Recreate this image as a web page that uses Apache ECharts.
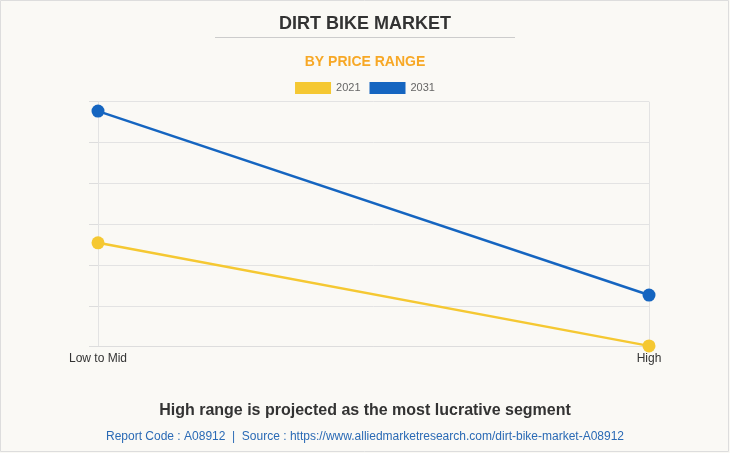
<!DOCTYPE html>
<html><head><meta charset="utf-8">
<script src="https://cdn.jsdelivr.net/npm/echarts@6/dist/echarts.min.js"></script>
<style>html,body{margin:0;padding:0;background:#faf9f5;}#c{width:730px;height:453px;}</style>
</head><body><div id="c"></div>
<script>
const categories = ['Low to Mid', 'High'];
const seriesNames = ['2021', '2031'];
const values2021 = [509, 4];
const values2031 = [1154, 253];
const chart = echarts.init(document.getElementById('c'));
const fontFam = 'Arial, "Liberation Sans", Helvetica, sans-serif';
chart.setOption({
  backgroundColor: '#faf9f5',
  animation: false,
  textStyle: {fontFamily: fontFam},
  title: [
    {text: 'DIRT BIKE MARKET', left: 'center', top: 10, textStyle: {fontSize: 18, fontWeight: 'bold', color: '#333', fontFamily: fontFam}},
    {text: 'BY PRICE RANGE', left: 'center', top: 50, textStyle: {fontSize: 14, fontWeight: 'bold', color: '#f7a826', fontFamily: fontFam}},
    {text: 'High range is projected as the most lucrative segment', left: 'center', top: 398, textStyle: {fontSize: 16, fontWeight: 'bold', color: '#333', fontFamily: fontFam}},
    {text: 'Report Code : A08912  |  Source : https://www.alliedmarketresearch.com/dirt-bike-market-A08912', left: 'center', top: 426, textStyle: {fontSize: 12, fontWeight: 'normal', color: '#2a6ab5', fontFamily: fontFam}}
  ],
  graphic: [
    {type: 'rect', shape: {x: 0.5, y: 0.5, width: 728, height: 451}, style: {fill: null, stroke: '#dddddd', lineWidth: 1}, silent: true},
    {type: 'line', shape: {x1: 215, y1: 37.5, x2: 515, y2: 37.5}, style: {stroke: '#cccccc', lineWidth: 1}}
  ],
  legend: {
    top: 77, left: 'center', itemWidth: 36, itemHeight: 12, itemGap: 9,
    icon: 'rect',
    textStyle: {fontSize: 11, color: '#666', fontFamily: fontFam},
    data: seriesNames
  },
  grid: {left: 98, right: 81, top: 101.7, bottom: 106.3},
  xAxis: {
    type: 'category', data: categories, boundaryGap: false,
    axisLine: {show: true, lineStyle: {color: '#dddddd'}},
    axisTick: {show: false},
    axisLabel: {color: '#333', fontSize: 12, margin: 6},
    splitLine: {show: true, lineStyle: {color: '#e3e3e3'}}
  },
  yAxis: {
    type: 'value', min: 0, max: 1200, interval: 200,
    axisLabel: {show: false},
    axisLine: {show: false},
    axisTick: {show: true, length: 9, lineStyle: {color: '#dddddd'}},
    splitLine: {show: true, lineStyle: {color: '#e3e3e3'}}
  },
  series: [
    {name: seriesNames[0], type: 'line', data: values2021, color: '#f5c832', symbol: 'circle', symbolSize: 13, lineStyle: {width: 2.5}},
    {name: seriesNames[1], type: 'line', data: values2031, color: '#1565c0', symbol: 'circle', symbolSize: 13, lineStyle: {width: 2.5}}
  ]
});
</script></body></html>
